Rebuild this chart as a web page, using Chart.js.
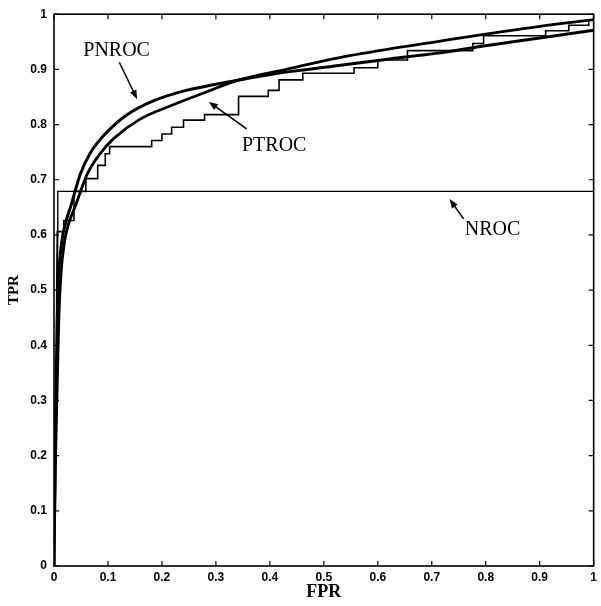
<!DOCTYPE html>
<html>
<head>
<meta charset="utf-8">
<script src="https://cdn.jsdelivr.net/npm/chart.js@4.4.0/dist/chart.umd.min.js"></script>
<style>
html, body { margin: 0; padding: 0; background: #fff; }
#wrap { width: 601px; height: 606px; }
</style>
</head>
<body>
<div id="wrap"><canvas id="roc" width="601" height="606"></canvas></div>
<script>
// axis ticks
var tickVals = [0, 0.1, 0.2, 0.3, 0.4, 0.5, 0.6, 0.7, 0.8, 0.9, 1];

// PNROC smooth curve
var pnrocX = [0, 0.001, 0.002, 0.004, 0.006, 0.009, 0.014, 0.021, 0.032, 0.049, 0.067, 0.092, 0.134, 0.184, 0.245, 0.295, 0.356, 0.43, 0.52, 0.615, 0.707, 0.8, 0.9, 1];
var pnrocY = [0, 0.1, 0.2, 0.33, 0.45, 0.53, 0.585, 0.62, 0.655, 0.711, 0.748, 0.78, 0.817, 0.843, 0.862, 0.872, 0.883, 0.895, 0.906, 0.918, 0.929, 0.943, 0.957, 0.971];

// PTROC smooth curve
var ptrocX = [0, 0.001, 0.003, 0.006, 0.009, 0.013, 0.019, 0.027, 0.039, 0.062, 0.086, 0.111, 0.158, 0.221, 0.282, 0.343, 0.43, 0.522, 0.615, 0.707, 0.8, 0.9, 1];
var ptrocY = [0, 0.08, 0.2, 0.33, 0.45, 0.53, 0.585, 0.62, 0.651, 0.711, 0.748, 0.775, 0.809, 0.836, 0.859, 0.881, 0.9, 0.92, 0.936, 0.95, 0.964, 0.978, 0.99];

// empirical staircase ROC
var stepX = [0, 0.002, 0.004, 0.005, 0.006, 0.018, 0.018, 0.037, 0.037, 0.059, 0.059, 0.081, 0.081, 0.095, 0.095, 0.103, 0.103, 0.181, 0.181, 0.2, 0.2, 0.218, 0.218, 0.24, 0.24, 0.279, 0.279, 0.342, 0.342, 0.397, 0.397, 0.417, 0.417, 0.461, 0.461, 0.556, 0.556, 0.6, 0.6, 0.655, 0.655, 0.776, 0.776, 0.796, 0.796, 0.911, 0.911, 0.954, 0.954, 0.991, 0.991, 1, 1];
var stepY = [0, 0.15, 0.35, 0.5, 0.606, 0.606, 0.626, 0.626, 0.679, 0.679, 0.702, 0.702, 0.726, 0.726, 0.747, 0.747, 0.76, 0.76, 0.771, 0.771, 0.783, 0.783, 0.795, 0.795, 0.808, 0.808, 0.818, 0.818, 0.851, 0.851, 0.862, 0.862, 0.881, 0.881, 0.893, 0.893, 0.903, 0.903, 0.917, 0.917, 0.934, 0.934, 0.947, 0.947, 0.961, 0.961, 0.970, 0.970, 0.980, 0.980, 0.989, 0.989, 1];

// NROC
var nrocX = [0, 0.004, 0.007, 0.007, 1, 1];
var nrocY = [0, 0.3, 0.6, 0.679, 0.679, 1];

// curve labels and their arrows (data coords)
var noteText = ["PNROC", "PTROC", "NROC"];
var noteX = [0.116, 0.408, 0.8125];
var noteY = [0.933, 0.761, 0.609];
var arrowFromX = [0.121, 0.357, 0.759];
var arrowFromY = [0.913, 0.792, 0.629];
var arrowToX = [0.154, 0.287, 0.733];
var arrowToY = [0.846, 0.841, 0.665];

function pts(xs, ys) {
  return xs.map(function (x, i) { return { x: x, y: ys[i] }; });
}

var frameTicks = {
  id: "frameTicks",
  afterDraw: function (chart) {
    var c = chart.ctx, a = chart.chartArea;
    var sx = chart.scales.x, sy = chart.scales.y;
    c.save();
    c.strokeStyle = "#000";
    c.lineWidth = 1.6;
    c.strokeRect(a.left, a.top, a.right - a.left, a.bottom - a.top);
    c.lineWidth = 1.2;
    c.beginPath();
    tickVals.forEach(function (v) {
      var px = sx.getPixelForValue(v), py = sy.getPixelForValue(v);
      c.moveTo(px, a.bottom); c.lineTo(px, a.bottom - 5);
      c.moveTo(px, a.top); c.lineTo(px, a.top + 5);
      c.moveTo(a.left, py); c.lineTo(a.left + 5, py);
      c.moveTo(a.right, py); c.lineTo(a.right - 5, py);
    });
    c.stroke();
    c.restore();
  }
};

var notes = {
  id: "notes",
  afterDraw: function (chart) {
    var c = chart.ctx, sx = chart.scales.x, sy = chart.scales.y;
    c.save();
    c.fillStyle = "#000";
    c.strokeStyle = "#000";
    c.font = "20px 'Liberation Serif'";
    c.textAlign = "center";
    c.textBaseline = "middle";
    noteText.forEach(function (t, i) {
      c.fillText(t, sx.getPixelForValue(noteX[i]), sy.getPixelForValue(noteY[i]));
      var x1 = sx.getPixelForValue(arrowFromX[i]), y1 = sy.getPixelForValue(arrowFromY[i]);
      var x2 = sx.getPixelForValue(arrowToX[i]), y2 = sy.getPixelForValue(arrowToY[i]);
      var ang = Math.atan2(y2 - y1, x2 - x1);
      c.lineWidth = 1.5;
      c.beginPath();
      c.moveTo(x1, y1);
      c.lineTo(x2 - 6 * Math.cos(ang), y2 - 6 * Math.sin(ang));
      c.stroke();
      c.beginPath();
      c.moveTo(x2, y2);
      c.lineTo(x2 - 9 * Math.cos(ang) + 3.5 * Math.sin(ang), y2 - 9 * Math.sin(ang) - 3.5 * Math.cos(ang));
      c.lineTo(x2 - 9 * Math.cos(ang) - 3.5 * Math.sin(ang), y2 - 9 * Math.sin(ang) + 3.5 * Math.cos(ang));
      c.closePath();
      c.fill();
    });
    c.restore();
  }
};

function tickLabel(v) {
  if (Math.abs(v) < 1e-9) return "0";
  if (Math.abs(v - 1) < 1e-9) return "1";
  return v.toFixed(1);
}

var tickFont = { family: "'Liberation Sans', Arial, sans-serif", size: 12, weight: "bold" };

var ctx = document.getElementById("roc").getContext("2d");
var rocChart = new Chart(ctx, {
  type: "scatter",
  data: {
    datasets: [
      {
        label: "NROC",
        data: pts(nrocX, nrocY),
        showLine: true,
        borderColor: "#000",
        borderWidth: 1.4,
        pointRadius: 0,
        tension: 0
      },
      {
        label: "ROC",
        data: pts(stepX, stepY),
        showLine: true,
        borderColor: "#000",
        borderWidth: 1.6,
        pointRadius: 0,
        tension: 0
      },
      {
        label: "PTROC",
        data: pts(ptrocX, ptrocY),
        showLine: true,
        borderColor: "#000",
        borderWidth: 2.8,
        pointRadius: 0,
        cubicInterpolationMode: "monotone"
      },
      {
        label: "PNROC",
        data: pts(pnrocX, pnrocY),
        showLine: true,
        borderColor: "#000",
        borderWidth: 3,
        pointRadius: 0,
        cubicInterpolationMode: "monotone"
      }
    ]
  },
  options: {
    responsive: false,
    animation: false,
    layout: { padding: { top: 13, right: 3, left: 0, bottom: 0 } },
    plugins: {
      legend: { display: false },
      tooltip: { enabled: false }
    },
    scales: {
      x: {
        type: "linear",
        min: 0,
        max: 1,
        afterFit: function (s) { s.height = 40; },
        afterBuildTicks: function (s) { s.ticks = tickVals.map(function (v) { return { value: v }; }); },
        grid: { display: false, drawTicks: false },
        border: { display: false },
        ticks: { color: "#000", font: tickFont, padding: 4, maxRotation: 0, callback: tickLabel },
        title: {
          display: true,
          text: "FPR",
          color: "#000",
          font: { family: "'Liberation Serif', serif", size: 18, weight: "bold" },
          padding: { top: 0, bottom: 3 }
        }
      },
      y: {
        type: "linear",
        min: 0,
        max: 1,
        afterFit: function (s) { s.width = 54; },
        afterBuildTicks: function (s) { s.ticks = tickVals.map(function (v) { return { value: v }; }); },
        grid: { display: false, drawTicks: false },
        border: { display: false },
        ticks: { color: "#000", font: tickFont, padding: 7, callback: tickLabel },
        title: {
          display: true,
          text: "TPR",
          color: "#000",
          font: { family: "'Liberation Serif', serif", size: 15, weight: "bold" },
          padding: { top: 5, bottom: 0 }
        }
      }
    }
  },
  plugins: [frameTicks, notes]
});
</script>
</body>
</html>
